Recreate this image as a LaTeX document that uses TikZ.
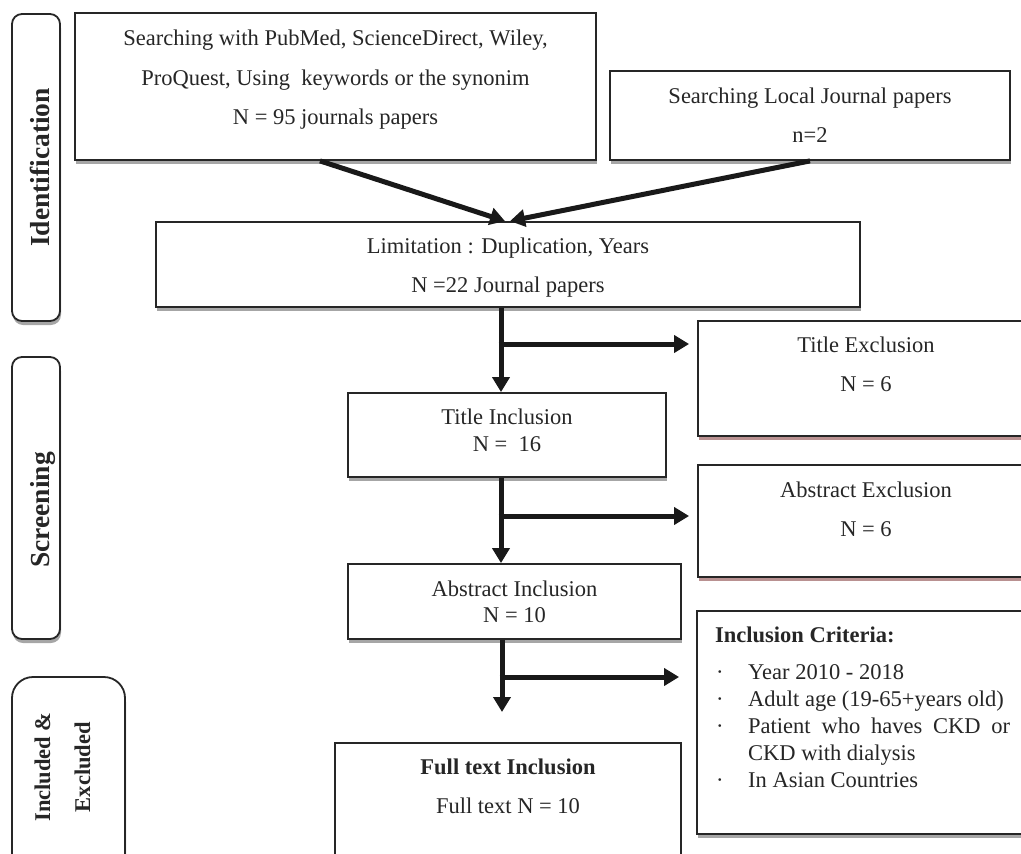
\documentclass[tikz,border=0pt]{standalone}
\usepackage{fontspec}
\setmainfont{Liberation Serif}
\usetikzlibrary{arrows.meta,shadows}
\begin{document}
\begin{tikzpicture}[x=1pt,y=-1pt,
  shd/.style={drop shadow={shadow xshift=1pt,shadow yshift=-4pt,fill=black!35,opacity=1}},
  rshd/.style={drop shadow={shadow xshift=1pt,shadow yshift=-4pt,fill={rgb,255:red,185;green,145;blue,145},opacity=1}},
  box/.style={draw=black!85,line width=1.8pt,fill=white,inner sep=0pt,shd},
  xbox/.style={draw=black!85,line width=1.8pt,fill=white,inner sep=0pt,rshd},
  side/.style={box,rounded corners=10pt},
  txt/.style={inner sep=0pt,font=\fontsize{22.5}{27}\selectfont,text=black!85},
  btxt/.style={txt,font=\fontsize{22.5}{27}\selectfont\bfseries},
  bigtxt/.style={txt,font=\fontsize{27.5}{32}\selectfont\bfseries},
  arr/.style={line width=5pt,draw=black!90,-{Triangle[length=15pt,width=17pt]}},
]
\useasboundingbox (0,0) rectangle (1021,854);
\clip (0,0) rectangle (1021,854);

% side phase boxes
\node[side,minimum width=48pt,minimum height=307pt] (idbox) at (36,167.5) {};
\node[side,minimum width=48pt,minimum height=282pt] (scbox) at (36,498) {};
\node[box,rounded corners=21pt,minimum width=113pt,minimum height=203pt] (incbox) at (68.5,778.5) {};
\node[bigtxt,rotate=90,anchor=base] (idlbl) at (49,167.5) {Identification};
\node[bigtxt,rotate=90,anchor=base] (sclbl) at (49,510) {Screening};
\node[btxt,rotate=90,anchor=base] (inclbl1) at (50,767) {Included \&};
\node[btxt,rotate=90,anchor=base] (inclbl2) at (90,767) {Excluded};

% main boxes
\node[box,minimum width=521pt,minimum height=147pt] (search) at (335.5,86.5) {};
\node[box,minimum width=400pt,minimum height=89pt] (local) at (810,115.5) {};
\node[box,minimum width=704pt,minimum height=85pt] (limit) at (508,264.5) {};
\node[box,minimum width=318pt,minimum height=84pt] (titleinc) at (507,435) {};
\node[box,minimum width=333pt,minimum height=75pt] (absinc) at (514.5,601.5) {};
\node[box,minimum width=346pt,minimum height=137pt] (full) at (508,811.5) {};
\node[xbox,minimum width=342pt,minimum height=115pt] (titleexc) at (869,378.5) {};
\node[xbox,minimum width=342pt,minimum height=112pt] (absexc) at (869,521) {};
\node[box,minimum width=343pt,minimum height=223pt] (crit) at (868.5,722.5) {};

% texts
\node[txt,anchor=base] (t1) at (335.5,45) {Searching with PubMed, ScienceDirect, Wiley,};
\node[txt,anchor=base] (t2) at (335.5,85) {ProQuest, Using\ \ keywords or the synonim};
\node[txt,anchor=base] (t3) at (335.5,124) {N = 95 journals papers};
\node[txt,anchor=base] (t4) at (810,103) {Searching Local Journal papers};
\node[txt,anchor=base] (t5) at (810,142) {n=2};
\node[txt,anchor=base] (t6) at (508,253.5) {Limitation : Duplication, Years};
\node[txt,anchor=base] (t7) at (508,292.5) {N =22 Journal papers};
\node[txt,anchor=base] (t8) at (866,352) {Title Exclusion};
\node[txt,anchor=base] (t9) at (866,391) {N = 6};
\node[txt,anchor=base] (t10) at (507,424) {Title Inclusion};
\node[txt,anchor=base] (t11) at (507,451) {N =\ \ 16};
\node[txt,anchor=base] (t12) at (866,497) {Abstract Exclusion};
\node[txt,anchor=base] (t13) at (866,536) {N = 6};
\node[txt,anchor=base] (t14) at (514.5,596) {Abstract Inclusion};
\node[txt,anchor=base] (t15) at (514.5,622) {N = 10};
\node[btxt,anchor=base] (t16) at (508,774) {Full text Inclusion};
\node[txt,anchor=base] (t17) at (508,813) {Full text N = 10};
\node[btxt,anchor=base west] (c0) at (715,642) {Inclusion Criteria:};
\foreach \yy/\tt [count=\i] in {679/{Year 2010 - 2018},706/{Adult age (19-65+years old)},733/{\hbox to 262pt{Patient\hfil who\hfil haves\hfil CKD\hfil or}},787/{In Asian Countries}}{
  \node[txt,anchor=base west] (cb\i) at (716,\yy) {·};
  \node[txt,anchor=base west] (ct\i) at (748,\yy) {\tt};
}
\node[txt,anchor=base west] (ct5) at (748,760) {CKD with dialysis};

% connectors
\draw[arr] ([xshift=-15.5pt]search.south) -- ([xshift=-3pt]limit.north);
\draw[arr] (local.south) -- ([xshift=2pt]limit.north);
\coordinate (b1) at (501,344);
\coordinate (b2) at (501,516);
\coordinate (b3) at (502,677);
\coordinate (e3) at (502,712);
\draw[arr] (limit.south -| b1) -- (titleinc.north -| b1);
\draw[arr,shorten >=8pt] ([xshift=-2.5pt]b1) -- (titleexc.west |- b1);
\draw[arr] (titleinc.south -| b2) -- (absinc.north -| b2);
\draw[arr,shorten >=8pt] ([xshift=-2.5pt]b2) -- (absexc.west |- b2);
\draw[arr] (absinc.south -| b3) -- (e3);
\draw[arr,shorten >=17pt] ([xshift=-2.5pt]b3) -- (crit.west |- b3);
\end{tikzpicture}
\end{document}
